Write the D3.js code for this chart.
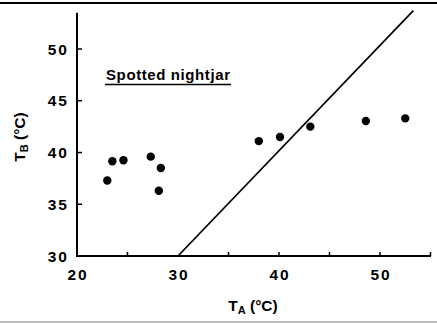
<!DOCTYPE html>
<html><head><meta charset="utf-8">
<script src="https://cdn.jsdelivr.net/npm/d3@7"></script>
<style>
html,body{margin:0;padding:0;background:#fff;}
svg{display:block;}
text{font-family:"Liberation Sans",Arial,sans-serif;fill:#000;}
</style></head><body>
<svg id="c" width="437" height="323"></svg>
<script>
const ambientTemp = [23.0, 23.5, 24.6, 27.3, 28.3, 28.1, 38.0, 40.1, 43.1, 48.6, 52.5];
const bodyTemp    = [37.3, 39.15, 39.25, 39.6, 38.5, 36.3, 41.1, 41.5, 42.5, 43.05, 43.3];
const xTicks = [20, 30, 40, 50];
const xMinorTicks = [25, 35, 40, 45, 50, 55];
const yTicks = [30, 35, 40, 45, 50];
const lineX = [30, 53.3];
const lineY = [30, 53.7];
const title = "Spotted nightjar";

const svg = d3.select("#c");
const x = d3.scaleLinear().domain([20, 50]).range([77, 380]);
const y = d3.scaleLinear().domain([30, 50]).range([256, 49]);

// frame lines
svg.append("line").attr("x1",0).attr("x2",437).attr("y1",3).attr("y2",3).attr("stroke","#000").attr("stroke-width",2.2);
svg.append("line").attr("x1",0).attr("x2",437).attr("y1",322).attr("y2",322).attr("stroke","#777").attr("stroke-width",1.2);

// axes lines
svg.append("line").attr("x1",x(20)).attr("x2",x(20)).attr("y1",y(30)+1).attr("y2",y(53.5)).attr("stroke","#000").attr("stroke-width",2);
svg.append("line").attr("x1",x(20)-1).attr("x2",x(55.05)).attr("y1",y(30)).attr("y2",y(30)).attr("stroke","#000").attr("stroke-width",2);

// y ticks (inward)
svg.selectAll(".yt").data(yTicks.filter(d=>d>30)).enter().append("line")
  .attr("x1",x(20)).attr("x2",x(20)+5).attr("y1",d=>y(d)).attr("y2",d=>y(d))
  .attr("stroke","#000").attr("stroke-width",1.5);
// x ticks (upward)
svg.selectAll(".xt").data(xMinorTicks).enter().append("line")
  .attr("x1",d=>x(d)).attr("x2",d=>x(d)).attr("y1",y(30)).attr("y2",y(30)-4)
  .attr("stroke","#000").attr("stroke-width",1.5);

// tick labels
svg.selectAll(".yl").data(yTicks).enter().append("text")
  .attr("x",69).attr("y",d=>y(d)+5.5).attr("text-anchor","end")
  .style("font-size","15.5px").style("font-weight","bold").style("letter-spacing","2px")
  .text(d=>d);
svg.selectAll(".xl").data(xTicks).enter().append("text")
  .attr("x",d=>x(d)+1).attr("y",279.5).attr("text-anchor","middle")
  .style("font-size","15.5px").style("font-weight","bold").style("letter-spacing","2px")
  .text(d=>d);

// axis titles
const xt = svg.append("text").attr("x",253).attr("y",311).attr("text-anchor","middle")
  .style("font-size","15.5px").style("font-weight","bold");
xt.append("tspan").text("T");
xt.append("tspan").attr("dy",3).style("font-size","11px").text("A");
xt.append("tspan").attr("dy",-3).text(" (°C)");

const yt = svg.append("text").attr("transform","translate(25,137) rotate(-90)").attr("text-anchor","middle")
  .style("font-size","15.5px").style("font-weight","bold");
yt.append("tspan").text("T");
yt.append("tspan").attr("dy",3).style("font-size","11px").text("B");
yt.append("tspan").attr("dy",-3).text(" (°C)");

// title with underline
svg.append("text").attr("x",106).attr("y",79.5).attr("textLength",124).attr("lengthAdjust","spacing")
  .style("font-size","15px").style("font-weight","bold").text(title);
svg.append("line").attr("x1",105).attr("x2",231).attr("y1",84.5).attr("y2",84.5).attr("stroke","#000").attr("stroke-width",1.6);

// diagonal line
const lineData = lineX.map((v,i)=>[v, lineY[i]]);
svg.append("path").datum(lineData)
  .attr("d", d3.line().x(d=>x(d[0])).y(d=>y(d[1])))
  .attr("stroke","#000").attr("stroke-width",1.7).attr("fill","none");

// points
svg.selectAll(".pt").data(ambientTemp.map((v,i)=>[v, bodyTemp[i]])).enter().append("circle")
  .attr("cx",d=>x(d[0])).attr("cy",d=>y(d[1])).attr("r",4.2).attr("fill","#000");
</script>
</body></html>
